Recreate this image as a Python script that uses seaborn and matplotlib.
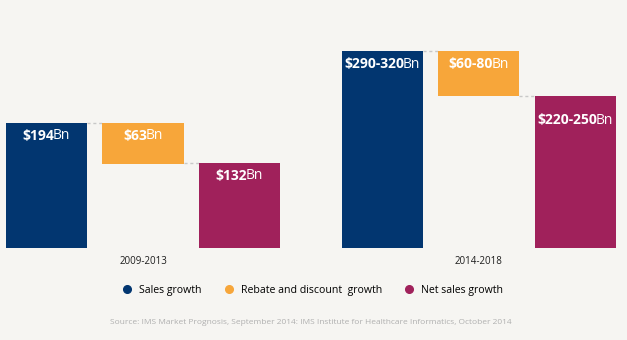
import matplotlib
matplotlib.use("Agg")
import matplotlib.pyplot as plt
import seaborn as sns
import pandas as pd
from matplotlib.lines import Line2D

# ---- data ($Bn; ranges are drawn at their midpoints) ----
periods = ["2009-2013", "2014-2018"]
series = ["Sales growth", "Rebate and discount  growth", "Net sales growth"]
sales_growth = [194, 305]
rebate_growth = [63, 70]
net_growth = [132, 235]
sales_labels = ["$194", "$290-320"]
rebate_labels = ["$63", "$60-80"]
net_labels = ["$132", "$220-250"]
source_note = ("Source: IMS Market Prognosis, September 2014: IMS Institute for "
               "Healthcare Informatics, October 2014")

# ---- style ----
BG = "#f6f5f2"
palette = {series[0]: "#023670", series[1]: "#f7a63a", series[2]: "#a0215b"}
plt.rcParams["font.family"] = ["Open Sans", "DejaVu Sans"]

GROUP_STEP = 3.48   # distance between the two period groups (in bar slots)
BAR_WIDTH = 0.84
PX_PER_UNIT = 0.645

# one row per bar: rebate bars float between net and gross sales
rows = []
for gi, period in enumerate(periods):
    vals = [sales_growth[gi], rebate_growth[gi], net_growth[gi]]
    bases = [0, sales_growth[gi] - rebate_growth[gi], 0]
    labs = [sales_labels[gi], rebate_labels[gi], net_labels[gi]]
    for si, name in enumerate(series):
        rows.append(dict(period=period, series=name, pos=gi * GROUP_STEP + si,
                         value=vals[si], base=bases[si], label=labs[si], slot=si))
df = pd.DataFrame(rows)

fig = plt.figure(figsize=(6.27, 3.4), dpi=100, facecolor=BG)
ax = fig.add_axes([0, 92 / 340, 1, 208 / 340])
ax.set_facecolor(BG)

sns.barplot(data=df, x="pos", y="value", hue="series", hue_order=series,
            palette=palette, native_scale=True, dodge=False, width=BAR_WIDTH,
            saturation=1, errorbar=None, legend=False, ax=ax, linewidth=0)

# lift the floating bars onto their bases
bars = {}
for container, name in zip(ax.containers, series):
    sub = df[df["series"] == name].sort_values("pos")
    for bar, (_, row) in zip(container, sub.iterrows()):
        bar.set_y(row["base"])
        bars[(row["period"], name)] = bar

ax.set_xlim(-46.5 / 96.5, (627 - 46.5) / 96.5)
ax.set_ylim(0, 208 / PX_PER_UNIT)
ax.axis("off")

# dashed connectors between neighbouring bars
for period in periods:
    b0, b1, b2 = (bars[(period, s)] for s in series)
    top = b0.get_y() + b0.get_height()
    ax.plot([b0.get_x() + b0.get_width(), b1.get_x()], [top, top],
            ls=(0, (2.2, 2)), color="#c8c8c8", lw=1, zorder=0)
    low = b2.get_y() + b2.get_height()
    ax.plot([b1.get_x() + b1.get_width(), b2.get_x()], [low, low],
            ls=(0, (2.2, 2)), color="#c8c8c8", lw=1, zorder=0)

# value labels: bold amount followed by regular "Bn"
fig.canvas.draw()
renderer = fig.canvas.get_renderer()
PT = 0.72  # points per pixel at 100 dpi
KERN = 1.5  # pull "Bn" tight against the amount (px)
pairs = []
for _, row in df.iterrows():
    bar = bars[(row["period"], row["series"])]
    cx = bar.get_x() + bar.get_width() / 2
    top = bar.get_y() + bar.get_height()
    drop = 13
    if row["period"] == periods[1] and row["slot"] == 2:
        drop = 24
    t1 = ax.annotate(row["label"], (cx, top), xytext=(0, -drop * PT),
                     textcoords="offset points", ha="right", va="center",
                     fontsize=10, fontweight="bold", color="white")
    t2 = ax.annotate("Bn", (cx, top), xytext=(0, -drop * PT),
                     textcoords="offset points", ha="left", va="center",
                     fontsize=10, color="white")
    pairs.append((t1, t2, drop))
for t1, t2, drop in pairs:
    w1 = t1.get_window_extent(renderer).width
    w2 = t2.get_window_extent(renderer).width
    shift = (w1 - w2 + KERN) / 2
    t1.set_position((shift * PT, -drop * PT))
    t2.set_position(((shift - KERN) * PT, -drop * PT))

# period captions under each group
for gi, period in enumerate(periods):
    cx = gi * GROUP_STEP + 1
    ax.annotate(period, (cx, 0), xytext=(0, -14 * PT), textcoords="offset points",
                ha="center", va="center", fontsize=7, color="#1e1e1e",
                annotation_clip=False)

handles = [Line2D([], [], marker="o", ls="", markersize=5.5,
                  markerfacecolor=palette[s], markeredgecolor=palette[s])
           for s in series]
fig.legend(handles, series, loc="center", bbox_to_anchor=(312 / 627, 1 - 290 / 340),
           ncol=3, frameon=False, fontsize=7.6, handletextpad=0.5,
           columnspacing=2.0, handlelength=1.2)

fig.text(311 / 627, 1 - 323 / 340, source_note, ha="center", va="center",
         fontsize=6, color="#b0b0b0")

fig.savefig("out.png", dpi=100, facecolor=BG)
